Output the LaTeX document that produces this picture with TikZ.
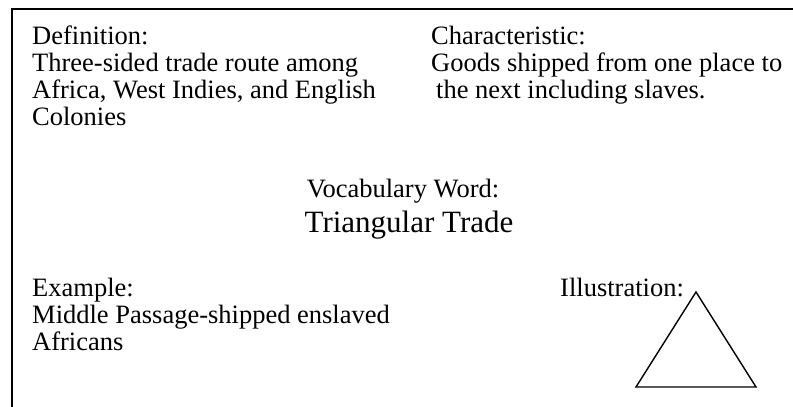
\documentclass[tikz,border=0pt]{standalone}
\usepackage{fontspec}
\setmainfont{Liberation Serif}
\tikzset{>=latex}
\tikzset{
  field/.style={inner sep=0pt, anchor=base west, align=left,
    font=\fontsize{26.5}{27}\selectfont},
  heading/.style={inner sep=0pt, anchor=base,
    font=\fontsize{26.5}{27}\selectfont},
}

\begin{document}
\begin{tikzpicture}[x=1pt,y=-1pt]
  \useasboundingbox (0,0) rectangle (793,407);
  % card border, cut off at right and bottom
  \coordinate (cardbl) at (12,407);
  \coordinate (cardtl) at (12,9);
  \coordinate (cardtr) at (793,9);
  \draw[line width=2.2pt] (cardbl) -- (cardtl) -- (cardtr);
  % four fields (placed by the baseline of their last line)
  \node[field] (definition) at (32,125) {Definition:\\Three-sided trade route among\\Africa, West Indies, and English\\Colonies};
  \node[field] (characteristic) at (431,98) {Characteristic:\\Goods shipped from one place to\\\hspace{5pt}the next including slaves.};
  \node[field] (example) at (32,350) {Example:\\Middle Passage-shipped enslaved\\Africans};
  \node[field] (illustration) at (560,296) {Illustration:};
  % the word itself
  \node[heading] (vocab) at (403,197) {Vocabulary Word:};
  \node[heading, font=\fontsize{31}{33}\selectfont] (term) at (409,232) {Triangular Trade};
  % triangle
  \coordinate (apex) at (696,292);
  \coordinate (baseleft) at (636,387);
  \coordinate (baseright) at (756,387);
  \draw[line width=1.4pt] (apex) -- (baseleft) -- (baseright) -- cycle;
\end{tikzpicture}
\end{document}
